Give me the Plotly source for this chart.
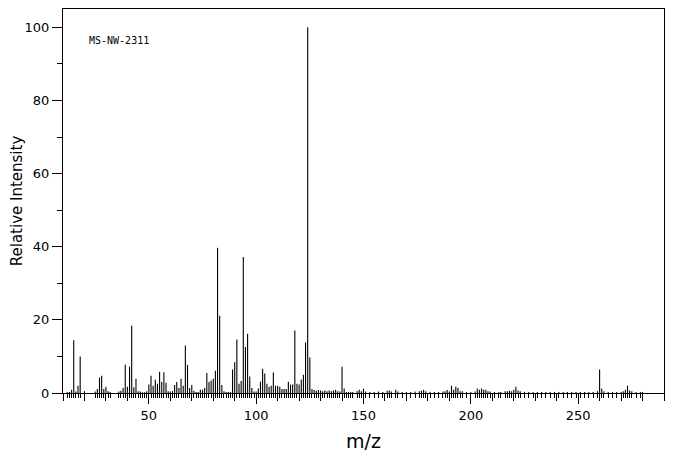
import plotly.graph_objects as go

# ---- data ----
mz = [12, 13, 14, 15, 16, 17, 18, 20, 25, 26, 27, 28, 29, 30, 31, 32,
      36, 37, 38, 39, 40, 41, 42, 43, 44, 45, 46, 47, 48, 49, 50,
      51, 52, 53, 54, 55, 56, 57, 58, 59, 60, 61, 62, 63, 64, 65, 66,
      67, 68, 69, 70, 71, 72, 73, 74, 75, 76, 77, 78, 79, 80, 81, 82,
      83, 84, 85, 86, 87, 88, 89, 90, 91, 92, 93, 94, 95, 96, 97, 98,
      99, 100, 101, 102, 103, 104, 105, 106, 107, 108, 109, 110, 111,
      112, 113, 114, 115, 116, 117, 118, 119, 120, 121, 122, 123, 124,
      125, 126, 127, 128, 129, 130, 131, 132, 133, 134, 135, 136, 137,
      138, 139, 140, 141, 142, 143, 144, 145, 147, 148, 149, 150, 151,
      153, 155, 157, 159, 161, 162, 163, 165, 166, 168, 170, 172, 174,
      176, 177, 178, 179, 181, 183, 185, 187, 188, 189, 190, 191, 192,
      193, 194, 195, 196, 198, 200, 202, 203, 204, 205, 206, 207, 208,
      209, 211, 213, 214, 216, 217, 218, 219, 220, 221, 222, 223, 225,
      227, 229, 231, 233, 235, 237, 239, 241, 243, 245, 247, 249, 251,
      253, 255, 257, 259, 260, 261, 262, 264, 266, 268, 270, 271, 272,
      273, 274, 275, 277, 279, 280]

intensity = [0.3, 0.3, 0.9, 14.4, 0.4, 2.0, 10.0, 0.5, 0.4, 1.1, 4.2, 4.7, 1.1, 1.7, 0.5, 0.3,
             0.4, 0.6, 1.4, 7.7, 1.7, 7.2, 18.4, 1.6, 3.9, 0.5, 0.4, 0.2, 0.2, 0.5, 2.3,
             4.7, 2.0, 3.6, 2.5, 5.8, 3.0, 5.7, 2.8, 0.5, 0.4, 0.5, 2.2, 3.0, 1.4, 3.9, 2.0,
             13.0, 7.7, 1.4, 2.2, 0.6, 0.3, 0.3, 0.9, 0.9, 1.4, 5.5, 3.0, 3.4, 3.9, 6.1, 39.7,
             21.1, 2.2, 0.5, 0.3, 0.3, 0.3, 6.4, 8.4, 14.6, 2.5, 3.3, 37.2, 12.6, 16.2, 4.5, 1.4,
             0.4, 0.4, 1.2, 3.1, 6.6, 5.3, 2.5, 1.7, 2.0, 5.6, 2.0, 2.0, 1.7,
             1.1, 1.1, 1.1, 3.1, 2.3, 2.3, 17.1, 2.5, 2.3, 3.7, 5.0, 13.8, 100.0,
             9.7, 1.1, 0.8, 0.6, 0.8, 0.7, 0.5, 0.7, 0.5, 0.7, 0.5, 0.7, 0.9,
             0.5, 0.4, 7.2, 1.2, 0.3, 0.3, 0.3, 0.3, 0.5, 0.9, 0.5, 1.2, 0.4,
             0.3, 0.3, 0.4, 0.3, 0.6, 0.7, 0.4, 0.9, 0.4, 0.3, 0.3, 0.3, 0.4,
             0.5, 0.6, 0.9, 0.5, 0.3, 0.3, 0.3, 0.4, 0.5, 0.8, 0.4, 2.0, 0.9,
             1.7, 1.4, 0.5, 0.5, 0.3, 0.3, 0.4, 1.2, 0.9, 1.2, 0.9, 0.9, 0.5,
             0.4, 0.3, 0.3, 0.3, 0.5, 0.5, 0.6, 0.5, 0.9, 1.7, 0.7, 0.5, 0.3,
             0.3, 0.3, 0.3, 0.3, 0.3, 0.3, 0.3, 0.3, 0.3, 0.3, 0.3, 0.3, 0.3,
             0.3, 0.3, 0.3, 0.5, 6.4, 1.2, 0.5, 0.3, 0.3, 0.3, 0.3, 0.5, 0.9,
             2.0, 0.7, 0.5, 0.3, 0.3, 0.3]

x_label_ticks = [50, 100, 150, 200, 250]
x_minor_ticks = [10, 20, 30, 40, 60, 70, 80, 90, 110, 120, 130, 140, 160, 170, 180,
                 190, 210, 220, 230, 240, 260, 270, 280, 290]
y_label_ticks = [0, 20, 40, 60, 80, 100]
y_minor_ticks = [10, 30, 50, 70, 90]
sample_id = "MS-NW-2311"

# ---- build stick spectrum ----
xs, ys = [], []
for m, v in zip(mz, intensity):
    xs += [m, m, None]
    ys += [0, v, None]

fig = go.Figure()
fig.add_trace(go.Scatter(x=xs, y=ys, mode="lines",
                         line=dict(color="black", width=1.1),
                         hoverinfo="skip", showlegend=False))
# invisible trace on the comb axis (peak stems below the baseline)
fig.add_trace(go.Scatter(x=mz, y=[0] * len(mz), xaxis="x2", yaxis="y",
                         mode="markers", marker=dict(opacity=0),
                         hoverinfo="skip", showlegend=False))

fig.add_annotation(x=21.0, y=96.5, xref="x", yref="y", text=sample_id,
                   showarrow=False, xanchor="left", yanchor="middle",
                   font=dict(family="DejaVu Sans Mono", size=10, color="black"))

# page body adds an 8px offset, so the figure is 8px smaller on each axis
fig.update_layout(
    width=668, height=447,
    margin=dict(l=55, r=12, t=1, b=62, autoexpand=False),
    paper_bgcolor="white", plot_bgcolor="white",
    font=dict(family="DejaVu Sans", size=13, color="black"),
    xaxis=dict(range=[10, 290], tickmode="array", tickvals=x_label_ticks,
               ticks="outside", ticklen=10, tickwidth=1, tickcolor="black",
               minor=dict(tickmode="array", tickvals=x_minor_ticks, ticks="outside",
                          ticklen=7, tickwidth=1, tickcolor="black"),
               showline=True, linecolor="black", linewidth=1, mirror=True,
               showgrid=False, zeroline=False, automargin=False,
               title=dict(text="m/z", font=dict(size=19), standoff=13)),
    xaxis2=dict(range=[10, 290], overlaying="x", anchor="y", side="bottom",
                tickmode="array", tickvals=mz, ticks="outside", ticklen=4,
                tickwidth=1, tickcolor="black", showticklabels=False,
                showgrid=False, zeroline=False, showline=False, automargin=False),
    yaxis=dict(range=[0, 105], tickmode="array", tickvals=y_label_ticks,
               ticks="outside", ticklen=10, tickwidth=1, tickcolor="black",
               minor=dict(tickmode="array", tickvals=y_minor_ticks, ticks="outside",
                          ticklen=5, tickwidth=1, tickcolor="black"),
               showline=True, linecolor="black", linewidth=1, mirror=True,
               showgrid=False, zeroline=False, automargin=False,
               title=dict(text="Relative Intensity", font=dict(size=15), standoff=0)),
)

fig.write_html("out.html")
